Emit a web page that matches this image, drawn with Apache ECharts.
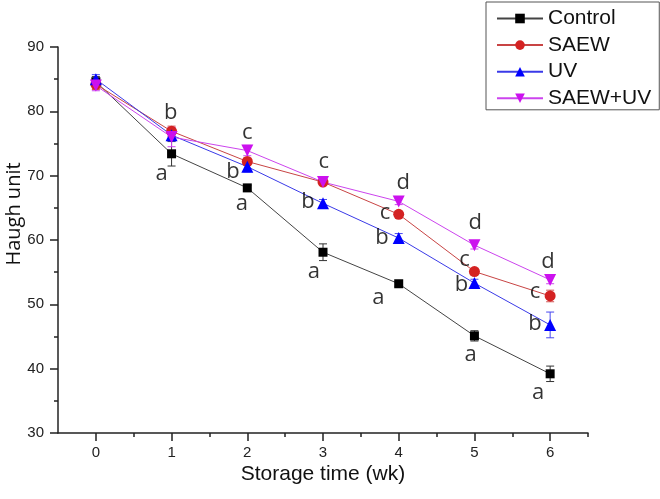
<!DOCTYPE html>
<html>
<head>
<meta charset="utf-8">
<script src="https://cdn.jsdelivr.net/npm/echarts@6/dist/echarts.min.js"></script>
<style>html,body{margin:0;padding:0;background:#fff;}#c{width:660px;height:499px;}</style>
</head>
<body>
<div id="c"></div>
<script>
var weeks = [0, 1, 2, 3, 4, 5, 6];
var xTickLabels = ['0', '1', '2', '3', '4', '5', '6'];
var yTicks = [30, 40, 50, 60, 70, 80, 90];

var controlVals = [84.6, 73.4, 68.1, 58.1, 53.2, 45.1, 39.2];
var saewVals    = [84.2, 76.9, 72.2, 69.0, 64.0, 55.1, 51.3];
var uvVals      = [85.0, 76.3, 71.4, 65.7, 60.3, 53.3, 46.8];
var suvVals     = [84.0, 76.0, 73.9, 69.0, 66.0, 59.2, 53.8];

var controlErr = [0.8, 1.9, 0.4, 1.3, 0.4, 0.8, 1.2];
var saewErr    = [0.8, 0.8, 0.5, 0.5, 0.4, 0.5, 0.9];
var uvErr      = [0.7, 0.9, 0.8, 0.6, 0.7, 0.6, 2.0];
var suvErr     = [0.8, 1.5, 0.8, 0.5, 0.5, 0.6, 0.6];

var seriesNames = ['Control', 'SAEW', 'UV', 'SAEW+UV'];

// significance letters: [week, value, letter]
var sigLetters = [
  [0.99, 79.8, 'b'], [0.87, 70.3, 'a'],
  [2.00, 76.7, 'c'], [1.81, 70.6, 'b'], [1.93, 65.6, 'a'],
  [3.01, 72.1, 'c'], [2.80, 65.9, 'b'], [2.88, 55.0, 'a'],
  [4.06, 68.9, 'd'], [3.82, 64.2, 'c'], [3.78, 60.3, 'b'], [3.73, 51.0, 'a'],
  [5.01, 62.7, 'd'], [4.87, 56.9, 'c'], [4.83, 53.0, 'b'], [4.95, 42.1, 'a'],
  [5.97, 56.6, 'd'], [5.80, 51.9, 'c'], [5.80, 47.0, 'b'], [5.84, 36.2, 'a']
];

var styles = [
  {marker: '#000000', line: '#444444', err: '#333333', symbol: 'rect', size: 9, rot: 0},
  {marker: '#d42222', line: '#c84444', err: '#d05050', symbol: 'circle', size: 11, rot: 0},
  {marker: '#0000ff', line: '#3a3ae8', err: '#4848f0', symbol: 'triangle', size: 12, rot: 0},
  {marker: '#cc11ee', line: '#cc44ee', err: '#cc44ee', symbol: 'triangle', size: 12, rot: 180}
];
var valsList = [controlVals, saewVals, uvVals, suvVals];
var errList = [controlErr, saewErr, uvErr, suvErr];

var series = [];
valsList.forEach(function (vals, i) {
  var errData = weeks.map(function (w, k) { return [w, vals[k], errList[i][k]]; });
  series.push({
    type: 'custom',
    name: seriesNames[i] + '_err',
    silent: true,
    z: 2,
    data: errData,
    renderItem: function (params, api) {
      var x = api.value(0), m = api.value(1), e = api.value(2);
      var top = api.coord([x, m + e]);
      var bot = api.coord([x, m - e]);
      var hw = 4;
      var st = {stroke: styles[i].err, lineWidth: 1};
      return {
        type: 'group',
        children: [
          {type: 'line', shape: {x1: top[0], y1: top[1], x2: bot[0], y2: bot[1]}, style: st},
          {type: 'line', shape: {x1: top[0] - hw, y1: top[1], x2: top[0] + hw, y2: top[1]}, style: st},
          {type: 'line', shape: {x1: bot[0] - hw, y1: bot[1], x2: bot[0] + hw, y2: bot[1]}, style: st}
        ]
      };
    }
  });
});
valsList.forEach(function (vals, i) {
  series.push({
    type: 'line',
    name: seriesNames[i],
    z: 3,
    data: weeks.map(function (w, k) { return [w, vals[k]]; }),
    symbol: styles[i].symbol,
    symbolSize: styles[i].size,
    symbolRotate: styles[i].rot,
    showAllSymbol: true,
    lineStyle: {color: styles[i].line, width: 1},
    itemStyle: {color: styles[i].marker, borderWidth: 0},
    emphasis: {disabled: true},
    animation: false
  });
});
series.push({
  type: 'scatter',
  name: 'letters',
  silent: true,
  z: 5,
  symbolSize: 0,
  data: sigLetters,
  label: {
    show: true,
    position: 'inside',
    formatter: function (p) { return p.data[2]; },
    fontSize: 22,
    fontFamily: 'Open Sans',
    color: '#000'
  }
});

var chart = echarts.init(document.getElementById('c'), null, {renderer: 'canvas'});
chart.setOption({
  animation: false,
  backgroundColor: '#ffffff',
  grid: {left: 58, right: 72, top: 47, bottom: 66, containLabel: false, outerBoundsMode: 'none'},
  legend: {
    data: seriesNames,
    orient: 'vertical',
    left: 486,
    top: 2,
    padding: [6, 8, 1, 10],
    itemGap: 5.6,
    itemWidth: 46,
    itemHeight: 12,
    borderColor: '#555',
    borderWidth: 1,
    borderRadius: 0,
    textStyle: {fontSize: 21, fontFamily: 'Liberation Sans', color: '#111', padding: [0, 0, 0, 0]}
  },
  xAxis: [{
    type: 'value',
    min: -0.5,
    max: 6.5,
    interval: 0.5,
    name: 'Storage time (wk)',
    nameLocation: 'middle',
    nameGap: 31,
    nameMoveOverlap: false,
    nameTextStyle: {fontSize: 21, fontFamily: 'Liberation Sans', color: '#111'},
    axisLine: {show: true, onZero: false, lineStyle: {color: '#222', width: 1.5}},
    axisTick: {show: true, length: 8, lineStyle: {color: '#222', width: 1.5}, customValues: weeks},
    axisLabel: {show: true, margin: 12, fontSize: 15, fontFamily: 'Liberation Sans', color: '#222',
      customValues: weeks, formatter: function (v) { return xTickLabels[weeks.indexOf(v)]; }},
    splitLine: {show: false}
  }, {
    type: 'value',
    min: -0.5,
    max: 6.5,
    interval: 0.5,
    position: 'bottom',
    axisLine: {show: false, onZero: false},
    axisTick: {show: true, length: 4, lineStyle: {color: '#222', width: 1.5},
      customValues: [0.5, 1.5, 2.5, 3.5, 4.5, 5.5, 6.5]},
    axisLabel: {show: false},
    splitLine: {show: false}
  }],
  yAxis: {
    type: 'value',
    min: 30,
    max: 90,
    interval: 10,
    name: 'Haugh unit',
    nameLocation: 'middle',
    nameGap: 34,
    nameMoveOverlap: false,
    nameTextStyle: {fontSize: 20, fontFamily: 'Open Sans', color: '#111', padding: [0, 0, 0, 52]},
    axisLine: {show: true, onZero: false, lineStyle: {color: '#222', width: 1.5}},
    axisTick: {show: true, length: 8, lineStyle: {color: '#222', width: 1.5}},
    minorTick: {show: true, splitNumber: 2, length: 4, lineStyle: {color: '#222', width: 1.5}},
    axisLabel: {margin: 14, fontSize: 15, fontFamily: 'Liberation Sans', color: '#222',
      formatter: function (v) { return yTicks.indexOf(v) >= 0 ? String(v) : ''; }},
    splitLine: {show: false}
  },
  series: series
});
</script>
</body>
</html>
